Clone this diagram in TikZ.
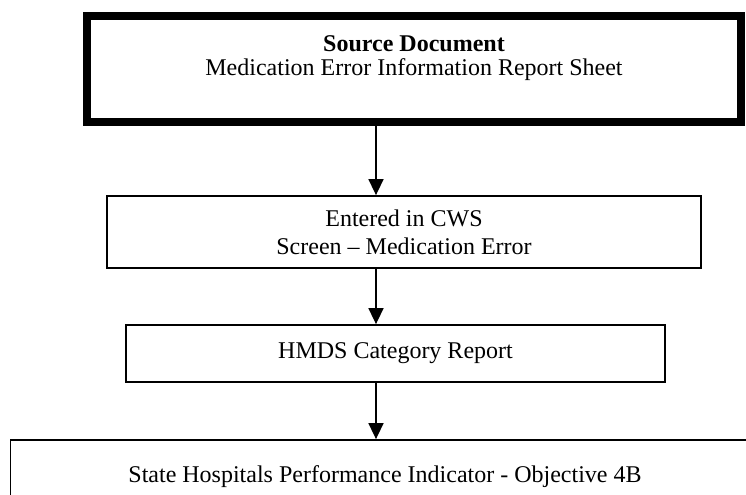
\documentclass[tikz,border=0pt]{standalone}
\usepackage{fontspec}
\setmainfont{Liberation Serif}
\usetikzlibrary{arrows.meta}
\begin{document}
\begin{tikzpicture}[x=0.5pt,y=-0.5pt,
  thickbox/.style={draw, line width=4pt, inner sep=0pt},
  box/.style={draw, line width=0.9pt, inner sep=0pt, align=center, font=\fontsize{12pt}{14pt}\selectfont},
  txt/.style={inner sep=0pt, align=center, font=\fontsize{12pt}{12pt}\selectfont},
  arr/.style={line width=0.8pt, -{Triangle[length=8pt,width=7.5pt]}}]
\useasboundingbox (0,0) rectangle (746,494);
\clip (0,0) rectangle (746,494);
\coordinate (ax) at (376,0);
% boxes
\node[thickbox, minimum width=327pt, minimum height=53pt] (src) at (414,69) {};
\node[txt] (srctext) at (414,58.4) {\textbf{Source Document}\\Medication Error Information Report Sheet};
\node[box, minimum width=297pt, minimum height=36pt] (cws) at (404,232) {Entered in CWS\\Screen -- Medication Error};
\node[box, minimum width=269.5pt, minimum height=28.5pt] (hmds) at (395.5,353.5) {HMDS Category Report};
\node[box, minimum width=374.5pt, minimum height=35pt] (shpi) at (385,475) {};
\node[txt, anchor=base] (shpitext) at (385,482) {State Hospitals Performance Indicator - Objective 4B};
% connectors
\draw[arr] (src.south -| ax) -- (cws.north -| ax);
\draw[arr] (cws.south -| ax) -- (hmds.north -| ax);
\draw[arr] (hmds.south -| ax) -- (shpi.north -| ax);
\end{tikzpicture}
\end{document}
